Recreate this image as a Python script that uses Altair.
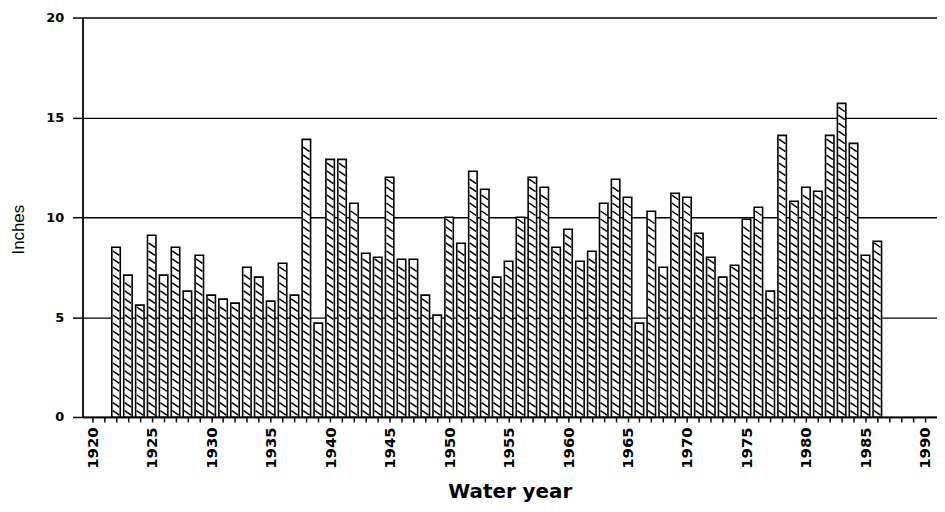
import altair as alt
import pandas as pd

years = list(range(1922, 1987))
inches = [
    8.5, 7.1, 5.6, 9.1, 7.1, 8.5, 6.3, 8.1, 6.1, 5.9,   # 1922-1931
    5.7, 7.5, 7.0, 5.8, 7.7, 6.1, 13.9, 4.7, 12.9, 12.9,  # 1932-1941
    10.7, 8.2, 8.0, 12.0, 7.9, 7.9, 6.1, 5.1, 10.0, 8.7,  # 1942-1951
    12.3, 11.4, 7.0, 7.8, 10.0, 12.0, 11.5, 8.5, 9.4, 7.8,  # 1952-1961
    8.3, 10.7, 11.9, 11.0, 4.7, 10.3, 7.5, 11.2, 11.0, 9.2,  # 1962-1971
    8.0, 7.0, 7.6, 9.9, 10.5, 6.3, 14.1, 10.8, 11.5, 11.3,  # 1972-1981
    14.1, 15.7, 13.7, 8.1, 8.8,                             # 1982-1986
]
y_ticks = [0, 5, 10, 15, 20]
x_ticks = list(range(1920, 1991))

df = pd.DataFrame({"year": years, "inches": inches})

FONT = "DejaVu Sans"

x_enc = alt.X(
    "year:Q",
    scale=alt.Scale(domain=[1919.6, 1990.6], nice=False, zero=False),
    axis=alt.Axis(
        values=x_ticks,
        labelExpr="datum.value % 5 == 0 ? format(datum.value, 'd') : ''",
        labelAngle=-90,
        labelFont=FONT,
        labelFontWeight="bold",
        labelFontSize=15,
        labelColor="black",
        labelPadding=5,
        labelOverlap=False,
        tickSize=5,
        tickWidth=1.5,
        tickColor="black",
        domainColor="black",
        domainWidth=1.8,
        grid=False,
        title="Water year",
        titleFont=FONT,
        titleFontWeight="bold",
        titleFontSize=20,
        titleColor="black",
        titleY=75,
        titleBaseline="middle",
    ),
)

y_axis = alt.Axis(
    values=y_ticks,
    format="d",
    labelFont=FONT,
    labelFontWeight="bold",
    labelFontSize=13,
    labelColor="black",
    labelPadding=9,
    tickSize=10,
    tickWidth=1.5,
    tickColor="black",
    domainColor="black",
    domainWidth=1.8,
    grid=True,
    gridColor="black",
    gridWidth=1.4,
    gridOpacity=1,
    title="Inches",
    titleFont="Liberation Sans",
    titleFontWeight="normal",
    titleFontSize=17,
    titleColor="black",
    titleX=-64,
    titleY=213,
    titleBaseline="middle",
)
y_scale = alt.Scale(domain=[0, 20], nice=False)

bars = alt.Chart(df).mark_bar(
    size=8.5, fill="white", stroke="black", strokeWidth=1.6
).encode(
    x=x_enc,
    y=alt.Y("inches:Q", scale=y_scale, axis=y_axis),
)

hatch = alt.Chart(df).transform_calculate(
    h="sequence(0.2, datum.inches - 0.15, 0.4)"
).transform_flatten(["h"]).mark_point(
    shape="M -1 -0.7 L 1 0.7",
    filled=False,
    stroke="black",
    strokeWidth=1.5,
    size=42,
    opacity=1,
).encode(
    x=x_enc,
    y=alt.Y("h:Q", scale=y_scale, axis=y_axis),
)

chart = alt.layer(bars, hatch).properties(
    width=860,
    height=402,
    autosize=alt.AutoSizeParams(type="none"),
    padding={"left": 75, "top": 8, "right": 0, "bottom": 86},
    background="white",
).configure_view(stroke=None)

chart.save("out.html", embed_options={"renderer": "svg", "actions": False})
